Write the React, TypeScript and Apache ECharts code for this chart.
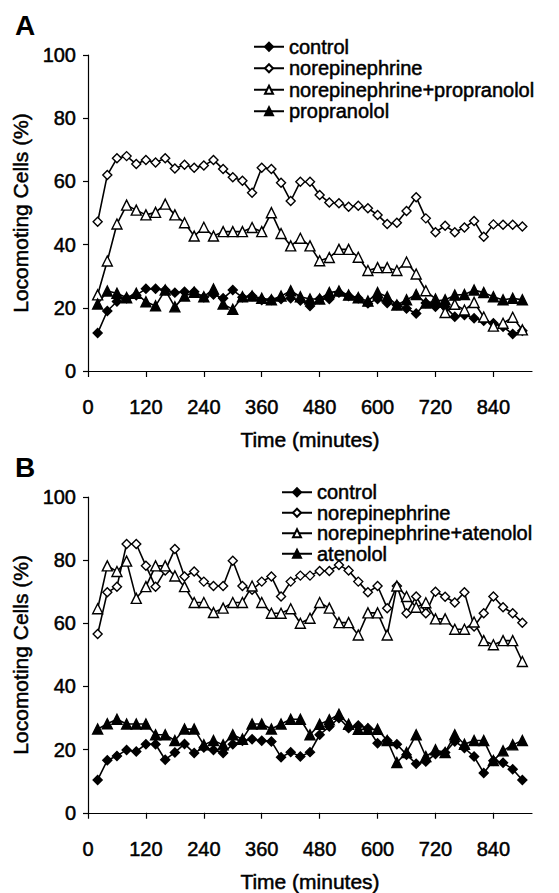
import React, { useEffect, useRef } from "react";
import * as echarts from "echarts";

const times = [20, 40, 60, 80, 100, 120, 140, 160, 180, 200, 220, 240, 260, 280, 300, 320, 340, 360, 380, 400, 420, 440, 460, 480, 500, 520, 540, 560, 580, 600, 620, 640, 660, 680, 700, 720, 740, 760, 780, 800, 820, 840, 860, 880, 900];
const xTicks = [0, 120, 240, 360, 480, 600, 720, 840];

// Panel A
const controlA = [12, 19, 22, 23, 24, 26, 26, 25.6, 24.8, 25.1, 25.1, 23.3, 24.2, 23, 25.6, 23.3, 23.7, 22.5, 22.5, 22.8, 23, 22.3, 20.6, 22.8, 22.8, 24.8, 23.7, 23, 21.4, 22.8, 21.5, 20.9, 19.8, 18.2, 21.5, 20.3, 20.3, 17.2, 17.7, 16.7, 15.9, 15.1, 14, 11.7, 12.7];
const neA = [47.2, 62, 67.3, 68, 65.5, 66.8, 66, 67.3, 64.1, 65.3, 64.3, 65, 66.8, 63.9, 61.3, 60.2, 56.4, 64.3, 63.9, 59.6, 53.8, 59.9, 59.9, 55.7, 53.3, 53.1, 52, 52.3, 51.5, 49.4, 46.5, 46.9, 50.6, 55, 48.3, 43.9, 46, 43.9, 45.4, 47.5, 42.5, 46.4, 46.3, 46.3, 45.7];
const nePropA = [24.1, 34.8, 46.5, 52.5, 50.9, 49.4, 50.2, 52.8, 49.4, 46.9, 42.7, 45.5, 42.7, 44.1, 44.1, 44.1, 45.4, 44.1, 50.1, 43.5, 39.6, 42, 39.6, 34.9, 35.9, 38.5, 38.5, 36, 31.8, 32.7, 32.7, 31.8, 34.5, 30.7, 25.4, 22.8, 18.5, 21.1, 19.3, 21.7, 17.1, 14.2, 15.1, 17, 13];
const propA = [21.2, 25.3, 24.6, 23.2, 24.6, 21.9, 20.6, 25.6, 20.3, 23.7, 24.9, 23.5, 25.9, 21.2, 19.5, 23.5, 23.7, 23, 22.5, 23.7, 25.4, 23.5, 22.8, 22.8, 24.8, 25.3, 24, 23.2, 22.1, 24.8, 23.5, 20.9, 22.5, 24.2, 21.5, 22.1, 22.5, 24, 24.2, 25.6, 24.8, 23.5, 22.5, 23, 22.5];

// Panel B
const controlB = [10.4, 16.6, 18, 19.9, 19.4, 21.7, 21.7, 16.8, 19.1, 21.8, 18.9, 20.7, 19.9, 18.9, 21.7, 22.8, 23.3, 22.8, 22.6, 17.6, 19.2, 17.8, 19.2, 24.7, 27.3, 30, 26.8, 27.6, 26.8, 22, 22.9, 21.7, 18.4, 15.5, 16.2, 18.6, 19.1, 22.6, 20.5, 17.8, 12.6, 16.5, 15.8, 13.8, 10.4];
const neB = [56.6, 69.8, 71.6, 85.1, 85.1, 78.2, 71.6, 76.7, 83.5, 74.8, 76.4, 73.2, 71.8, 71.8, 79.8, 71.8, 70.6, 73.2, 74.8, 68.5, 73.2, 75.1, 75.1, 76.6, 76.6, 78.5, 76.7, 73.2, 69.8, 71.8, 64.8, 71.8, 63.2, 68.5, 63.2, 70, 68.4, 66.6, 69.8, 59, 63.2, 68.5, 65.1, 63.2, 60.2];
const neAtenB = [64.6, 78.2, 76.4, 79.7, 67.9, 71.6, 78.2, 78.2, 75, 71.6, 66.6, 66.6, 63.4, 64.8, 66.6, 66.6, 71.8, 66.6, 63.2, 63.2, 64.6, 60, 61.6, 66.6, 64.8, 60.2, 60.2, 56.3, 63.3, 63.3, 56.3, 71.8, 68.5, 65.1, 66.5, 61.4, 61.4, 58.1, 58.1, 60.4, 54.5, 53.2, 54.5, 54.5, 47.9];
const atenB = [26.5, 28.2, 29.6, 28.1, 28.1, 28.1, 24.7, 24.7, 22.9, 26.5, 26.5, 21.5, 22.9, 21.5, 24.7, 23.3, 28.1, 28.1, 26.5, 28.1, 29.6, 29.6, 24.7, 28, 29.4, 31.2, 28, 26.4, 26.4, 26.4, 22.9, 15.9, 19.1, 24.7, 17.8, 19.9, 19.1, 24.7, 21.7, 22.9, 22.9, 16.5, 19.6, 21.5, 22.9];

const legendA = ["control", "norepinephrine", "norepinephrine+propranolol", "propranolol"];
const legendB = ["control", "norepinephrine", "norepinephrine+atenolol", "atenolol"];

const FONT = "'Liberation Sans', Arial, Helvetica, sans-serif";
const THICK = { textBorderColor: "#000", textBorderWidth: 0.5 };

export default function App() {
  const ref = useRef<HTMLDivElement>(null);
  useEffect(() => {
    document.body.style.margin = "0";
    const chart = echarts.init(ref.current as HTMLDivElement, null, { renderer: "svg" });
    const pair = (arr: number[]) => times.map((t, i) => [t, arr[i]]);
    const mk = (name: string, arr: number[], symbol: string, filled: boolean, gi: number) => ({
      type: "line",
      name,
      data: pair(arr),
      xAxisIndex: gi,
      yAxisIndex: gi,
      symbol,
      symbolSize: symbol === "diamond" ? 9 : 10,
      showSymbol: true,
      showAllSymbol: true,
      lineStyle: { color: "#000", width: 1.6 },
      itemStyle: { color: filled ? "#000" : "#fff", borderColor: "#000", borderWidth: 1.4 },
      emphasis: { disabled: true },
      silent: true,
    });
    const xAxis = (gi: number) => ({
      type: "value",
      gridIndex: gi,
      min: 0,
      max: 920,
      interval: 120,
      axisLine: { show: true, onZero: false, lineStyle: { color: "#000", width: 1.2 } },
      axisTick: { show: true, length: 6, lineStyle: { color: "#000", width: 1.2 }, customValues: xTicks },
      axisLabel: { fontSize: 20, color: "#000", margin: 26, fontFamily: FONT, customValues: xTicks, ...THICK },
      splitLine: { show: false },
      name: "Time (minutes)",
      nameLocation: "middle",
      nameGap: 58,
      nameTextStyle: { fontSize: 21, color: "#000", fontFamily: FONT, ...THICK },
    });
    const yAxis = (gi: number) => ({
      type: "value",
      gridIndex: gi,
      min: 0,
      max: 100,
      interval: 20,
      axisLine: { show: true, lineStyle: { color: "#000", width: 1.2 } },
      axisTick: { show: true, length: 5, lineStyle: { color: "#000", width: 1.2 } },
      axisLabel: { fontSize: 20, color: "#000", margin: 12, fontFamily: FONT, ...THICK },
      splitLine: { show: false },
      name: "Locomoting Cells (%)",
      nameLocation: "middle",
      nameGap: 54,
      nameTextStyle: { fontSize: 21, color: "#000", fontFamily: FONT, ...THICK },
    });
    const legend = (data: string[], left: number, top: number, lh: number) => ({
      data,
      orient: "vertical",
      left,
      top,
      padding: 0,
      itemWidth: 30,
      itemHeight: 10,
      itemGap: 0,
      selectedMode: false,
      textStyle: { fontSize: 20, lineHeight: lh, color: "#000", fontFamily: FONT, ...THICK },
    });
    chart.setOption({
      animation: false,
      backgroundColor: "#fff",
      grid: [
        { left: 88, top: 55, width: 444, height: 316, containLabel: false },
        { left: 88, top: 497, width: 444, height: 316, containLabel: false },
      ],
      xAxis: [xAxis(0), xAxis(1)],
      yAxis: [yAxis(0), yAxis(1)],
      legend: [legend(legendA, 253, 36, 21.5), legend(legendB, 281, 482, 20)],
      graphic: [
        { type: "text", left: 15, top: 11, style: { text: "A", font: `bold 28px ${FONT}`, fill: "#000" } },
        { type: "text", left: 15, top: 453, style: { text: "B", font: `bold 28px ${FONT}`, fill: "#000" } },
      ],
      series: [
        mk("control", controlA, "diamond", true, 0),
        mk("norepinephrine", neA, "diamond", false, 0),
        mk("norepinephrine+propranolol", nePropA, "triangle", false, 0),
        mk("propranolol", propA, "triangle", true, 0),
        mk("control", controlB, "diamond", true, 1),
        mk("norepinephrine", neB, "diamond", false, 1),
        mk("norepinephrine+atenolol", neAtenB, "triangle", false, 1),
        mk("atenolol", atenB, "triangle", true, 1),
      ],
    });
    return () => chart.dispose();
  }, []);
  return <div ref={ref} style={{ position: "absolute", left: 0, top: 0, width: 559, height: 893 }} />;
}
